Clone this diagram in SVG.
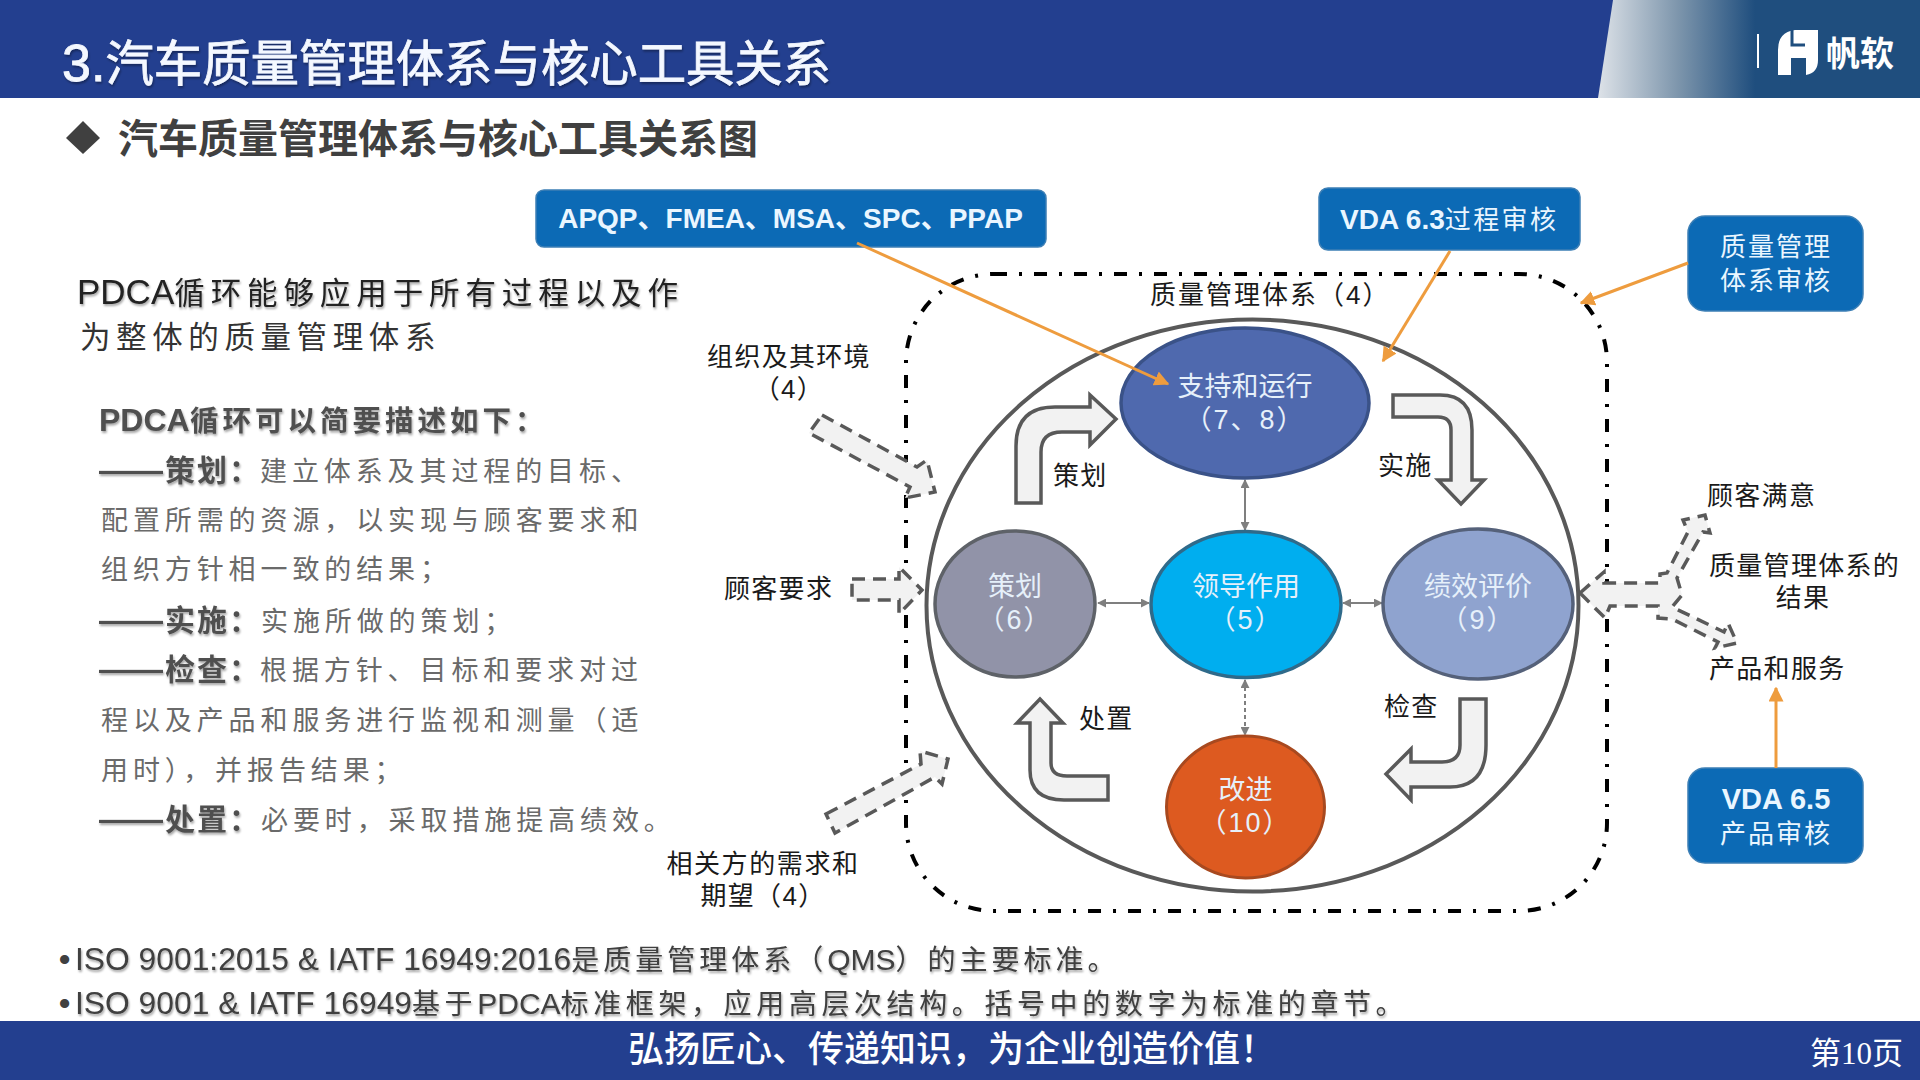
<svg xmlns="http://www.w3.org/2000/svg" width="1920" height="1080" viewBox="0 0 1920 1080">
<style>
text{font-family:"Liberation Sans","Noto Sans CJK SC",sans-serif}
.lab{font-size:26px;fill:#1a1a1a;letter-spacing:1.3px}
.mid{text-anchor:middle}
.nt{font-size:27px;fill:#e6f0fa;text-anchor:middle}
.par{letter-spacing:2px}
.box{fill:#0c6ab5;stroke:#3d7fb5;stroke-width:1.5}
.bt{fill:#eaf6ff;font-size:30px;text-anchor:middle}
.block{fill:#f2f2f2;stroke:#595959;stroke-width:3.5;stroke-linejoin:miter}
.dash{fill:#f2f2f2;stroke:#595959;stroke-width:3.5;stroke-dasharray:13 8}
.or{stroke:#ee9c3e;stroke-width:3;fill:none;marker-end:url(#oa)}
.gr{stroke:#7f7f7f;stroke-width:2;fill:none;marker-start:url(#ga);marker-end:url(#ga)}
.body{font-size:27px;fill:#6a6a6a;letter-spacing:4.9px}
.bh{font-size:30px;font-weight:700;fill:#505050;letter-spacing:2px;filter:url(#sh)}
.foot{font-size:28px;fill:#404040;letter-spacing:4px}
</style>
<defs>
<linearGradient id="hg" x1="0" x2="1" y1="0" y2="0"><stop offset="0" stop-color="#dde2e8"/><stop offset="0.5" stop-color="#7f97ad"/><stop offset="1" stop-color="#1f4e7e"/></linearGradient>
<marker id="oa" viewBox="0 0 10 10" refX="9" refY="5" markerWidth="15" markerHeight="15" markerUnits="userSpaceOnUse" orient="auto"><path d="M0 0L10 5L0 10Z" fill="#ee9c3e"/></marker>
<marker id="ga" viewBox="0 0 10 10" refX="9" refY="5" markerWidth="9" markerHeight="9" markerUnits="userSpaceOnUse" orient="auto-start-reverse"><path d="M0 0L10 5L0 10Z" fill="#7f7f7f"/></marker>
<filter id="sh" x="-5%" y="-20%" width="110%" height="150%"><feDropShadow dx="1" dy="2" stdDeviation="1.2" flood-color="#000" flood-opacity=".35"/></filter>
</defs>
<rect width="1920" height="1080" fill="#fff"/>
<g id="header">
<rect width="1920" height="98" fill="#233f8f"/>
<path d="M1598 98L1613 0H1755V98Z" fill="url(#hg)"/>
<rect x="1755" width="165" height="98" fill="#1f4e7e"/>
<rect x="1757" y="34" width="2" height="34" fill="#fff"/>
<path d="M1778 50Q1778 32 1795 30H1818V60Q1818 73 1806 75V58H1791V75H1778Z" fill="#fff"/>
<path d="M1792 30V45H1805" fill="none" stroke="#1f4e7e" stroke-width="3"/>
<text x="1826" y="66" font-size="34" font-weight="700" fill="#fff">帆软</text>
<text x="62" y="81" font-size="48.4" fill="#f4f8ff" stroke="#f4f8ff" stroke-width=".8" filter="url(#sh)"><tspan font-size="52">3.</tspan>汽车质量管理体系与核心工具关系</text>
</g>
<g id="subtitle">
<path d="M83 121L100 138L83 154L66 138Z" fill="#404040"/>
<text x="118" y="153" font-size="40" font-weight="700" fill="#404040">汽车质量管理体系与核心工具关系图</text>
</g>
<g id="left-text">
<text x="77" y="304" font-size="30.5" fill="#222" letter-spacing="5.9" filter="url(#sh)"><tspan font-size="35" letter-spacing="0">PDCA</tspan>循环能够应用于所有过程以及作</text>
<text x="80" y="348" font-size="30.5" fill="#333" letter-spacing="5.6">为整体的质量管理体系</text>
<text class="bh" x="99" y="431"><tspan font-size="32" letter-spacing="0">PDCA</tspan><tspan x="190" font-size="28.5" letter-spacing="4">循环可以简要描述如下：</tspan></text>
<text class="bh" x="99" y="481"><tspan font-size="32" letter-spacing="0">——</tspan><tspan x="165">策划：</tspan></text>
<text class="body" x="260" y="481">建立体系及其过程的目标、</text>
<text class="body" x="101" y="530">配置所需的资源，以实现与顾客要求和</text>
<text class="body" x="101" y="579">组织方针相一致的结果；</text>
<text class="bh" x="99" y="631"><tspan font-size="32" letter-spacing="0">——</tspan><tspan x="165">实施：</tspan></text>
<text class="body" x="261" y="631">实施所做的策划；</text>
<text class="bh" x="99" y="680"><tspan font-size="32" letter-spacing="0">——</tspan><tspan x="165">检查：</tspan></text>
<text class="body" x="260" y="680">根据方针、目标和要求对过</text>
<text class="body" x="101" y="730">程以及产品和服务进行监视和测量（适</text>
<text class="body" x="101" y="780">用时），并报告结果；</text>
<text class="bh" x="99" y="830"><tspan font-size="32" letter-spacing="0">——</tspan><tspan x="165">处置：</tspan></text>
<text class="body" x="261" y="830">必要时，采取措施提高绩效。</text>
</g>
<g id="qms-frame"><rect x="906" y="274" width="701" height="637" rx="88" fill="none" stroke="#000" stroke-width="4" stroke-dasharray="13 12 3 12"/>
<text class="lab" x="1150" y="304" style="letter-spacing:2px">质量管理体系（4）</text></g>
<g id="outer-circle"><ellipse cx="1252.5" cy="605.5" rx="326" ry="286" fill="#fff" stroke="#595959" stroke-width="4"/></g>
<g id="connectors">
<path class="block" d="M1016 503H1041V452Q1041 432 1062 432H1090V445L1116 419L1090 395V407H1055Q1016 407 1016 446Z"/>
<path class="block" d="M1393 395H1440Q1472 395 1472 430V480H1484L1461 504L1438 480H1451V430Q1451 417 1438 417H1393Z"/>
<path class="block" d="M1460 699H1486V745Q1486 787 1450 787H1411V800L1386 774L1411 749V762H1442Q1460 762 1460 745Z"/>
<path class="block" d="M1108 776V800H1064Q1030 800 1030 770V723H1017L1040 699L1063 723H1051V763Q1051 776 1067 776Z"/>
<path class="dash" d="M822 415L917 467L927 460L935 492L905 498L910 487L809 433Z"/>
<path class="dash" d="M852 579H899V567L922 590L899 614V600H852Z"/>
<path class="dash" d="M826 814L921 764L920 751L948 759L942 784L935 777L835 833Z"/>
<path class="dash" d="M1580 593L1604 572V583H1660V574L1667 573L1688 532L1683 520L1705 515L1710 533L1703 532L1677 578L1682 595L1672 607L1724 632L1728 623L1737 643L1715 648L1718 642L1672 619L1658 618V606H1610L1605 618Z"/>
<path class="gr" d="M1245 480V530"/>
<path class="gr" d="M1098 603H1149"/>
<path class="gr" d="M1343 603H1382"/>
<path class="gr" d="M1245 680V735" stroke-dasharray="4 3"/>
</g>
<g id="node-support"><ellipse cx="1245" cy="403" rx="124" ry="75" fill="#4f69ae" stroke="#3a5288" stroke-width="3.5"/><text class="nt" x="1245" y="396">支持和运行</text><text class="nt par" x="1245" y="429">（7、8）</text></g>
<g id="node-plan"><ellipse cx="1015" cy="604" rx="80" ry="73" fill="#9193a8" stroke="#5e6268" stroke-width="3.5"/><text class="nt" x="1015" y="596">策划</text><text class="nt par" x="1015" y="629">（6）</text></g>
<g id="node-lead"><ellipse cx="1246" cy="604.5" rx="95" ry="73" fill="#00aeef" stroke="#2f6a8a" stroke-width="3.5"/><text class="nt" x="1246" y="596">领导作用</text><text class="nt par" x="1246" y="629">（5）</text></g>
<g id="node-eval"><ellipse cx="1478" cy="604" rx="95" ry="75" fill="#8fa3cf" stroke="#55617a" stroke-width="3.5"/><text class="nt" x="1478" y="596">绩效评价</text><text class="nt par" x="1478" y="629">（9）</text></g>
<g id="node-improve"><ellipse cx="1245.5" cy="807" rx="79" ry="71" fill="#dd5a20" stroke="#a8491f" stroke-width="3"/><text class="nt" x="1245.5" y="799">改进</text><text class="nt par" x="1245.5" y="832">（10）</text></g>
<g id="labels">
<text class="lab mid" x="789" y="366">组织及其环境</text><text class="lab mid" x="789" y="398">（4）</text>
<text class="lab" x="724" y="598">顾客要求</text>
<text class="lab mid" x="763" y="873" style="letter-spacing:1.6px">相关方的需求和</text><text class="lab mid" x="763" y="905">期望（4）</text>
<text class="lab" x="1053" y="485">策划</text><text class="lab" x="1378" y="475">实施</text>
<text class="lab" x="1079" y="728">处置</text><text class="lab" x="1384" y="716">检查</text>
<text class="lab" x="1707" y="505">顾客满意</text>
<text class="lab" x="1709" y="575">质量管理体系的</text><text class="lab mid" x="1803" y="607">结果</text>
<text class="lab" x="1709" y="678">产品和服务</text>
</g>
<g id="box-tools"><rect class="box" x="536" y="190" width="510" height="57" rx="8"/><text class="bt" x="790.5" y="228" font-weight="700" style="font-size:28px">APQP、FMEA、MSA、SPC、PPAP</text></g>
<g id="box-vda63"><rect class="box" x="1319" y="188" width="261" height="62" rx="9"/><text x="1340" y="229" fill="#eaf6ff" font-size="26" letter-spacing="2.4"><tspan font-size="28" font-weight="700" letter-spacing="0">VDA 6.3</tspan>过程审核</text></g>
<g id="box-qms"><rect class="box" x="1688" y="216" width="175" height="95" rx="17"/><text class="bt" x="1776" y="256" style="font-size:26px;letter-spacing:2px">质量管理</text><text class="bt" x="1776" y="290" style="font-size:26px;letter-spacing:2px">体系审核</text></g>
<g id="box-vda65"><rect class="box" x="1688" y="768" width="175" height="95" rx="17"/><text class="bt" x="1776" y="809" font-weight="700" style="font-size:29px">VDA 6.5</text><text class="bt" x="1776" y="843" style="font-size:26px;letter-spacing:2px">产品审核</text></g>
<g id="audit-connectors">
<path class="or" d="M857 243L1168 384"/>
<path class="or" d="M1450 251L1383 361"/>
<path class="or" d="M1688 263L1581 303"/>
<path class="or" d="M1776 768V688"/>
</g>
<g id="notes">
<text x="59" y="970" font-size="32" font-weight="700" fill="#404040">•</text>
<text class="foot" x="75" y="970" filter="url(#sh)"><tspan font-size="31.8" letter-spacing="0">ISO 9001:2015 &amp; IATF 16949:2016</tspan>是质量管理体系（<tspan font-size="30" letter-spacing="0">QMS</tspan>）的主要标准。</text>
<text x="59" y="1014" font-size="32" font-weight="700" fill="#404040">•</text>
<text class="foot" x="75" y="1014" filter="url(#sh)" style="letter-spacing:4.6px"><tspan font-size="31.8" letter-spacing="0">ISO 9001 &amp; IATF 16949</tspan>基于<tspan font-size="30" letter-spacing="0">PDCA</tspan>标准框架，应用高层次结构。括号中的数字为标准的章节。</text>
</g>
<g id="footer">
<rect y="1021" width="1920" height="59" fill="#233f8f"/>
<text x="628" y="1062" font-size="36" font-weight="500" fill="#fff">弘扬匠心、传递知识，为企业创造价值！</text>
<text x="1810" y="1064" font-size="31" fill="#fff"><tspan>第</tspan><tspan font-family="Liberation Serif">10</tspan><tspan>页</tspan></text>
</g>
</svg>
